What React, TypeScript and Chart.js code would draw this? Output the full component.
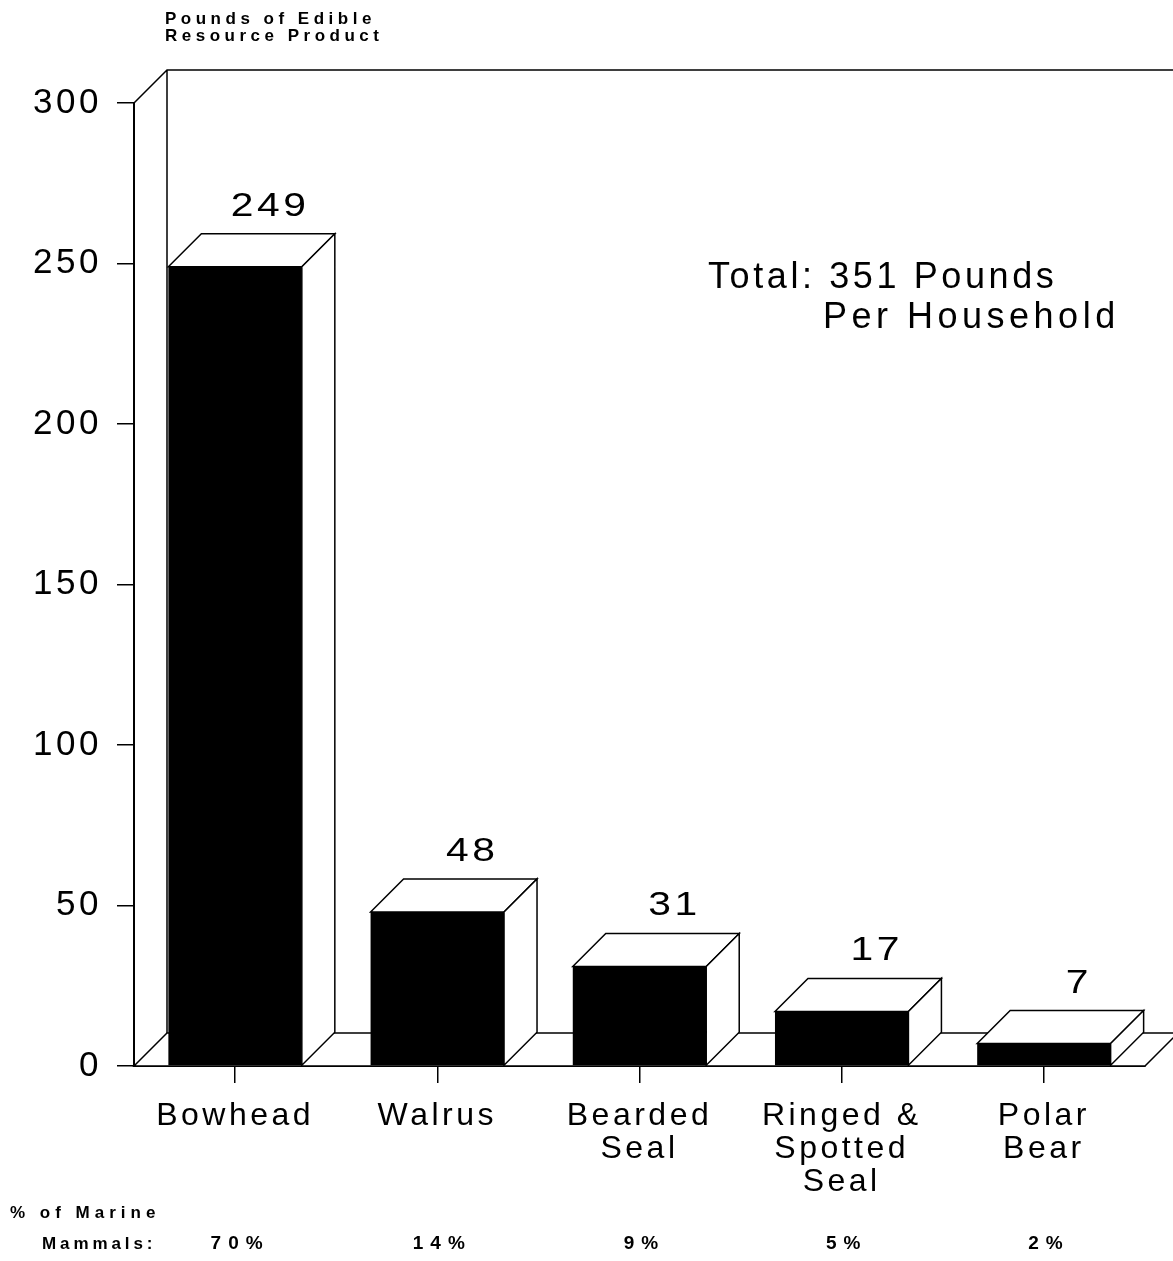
import React, { useEffect, useRef } from "react";
import { Chart, registerables } from "chart.js";

Chart.register(...registerables);

const categories: string[][] = [
  ["Bowhead"],
  ["Walrus"],
  ["Bearded", "Seal"],
  ["Ringed &", "Spotted", "Seal"],
  ["Polar", "Bear"],
];
const values: number[] = [249, 48, 31, 17, 7];
const valueLabels: string[] = ["249", "48", "31", "17", "7"];
const percentLabels: string[] = ["70%", "14%", "9%", "5%", "2%"];
const yMin = 0;
const yMax = 300;
const yStep = 50;
const yAxisTitle: string[] = ["Pounds of Edible", "Resource Product"];
const totalText: string[] = ["Total: 351 Pounds", "Per Household"];
const percentTitle: string[] = ["% of Marine", "Mammals:"];

const FONT = "'Liberation Sans', Arial, Helvetica, sans-serif";
const DX = 33;
const DY = 33;

const threeD = {
  id: "threeD",
  beforeDraw(chart: any) {
    const ctx = chart.ctx;
    ctx.save();
    ctx.fillStyle = "#fff";
    ctx.fillRect(0, 0, chart.width, chart.height);
    ctx.restore();
    (ctx as any).letterSpacing = "3.5px";
  },
  beforeDatasetsDraw(chart: any) {
    const ctx = chart.ctx;
    const { left, right, top, bottom } = chart.chartArea;
    ctx.save();
    ctx.strokeStyle = "#000";
    ctx.lineWidth = 1.5;
    // floor
    ctx.beginPath();
    ctx.moveTo(left, bottom);
    ctx.lineTo(left + DX, bottom - DY);
    ctx.lineTo(right + DX, bottom - DY);
    ctx.lineTo(right, bottom);
    ctx.closePath();
    ctx.fillStyle = "#fff";
    ctx.fill();
    ctx.stroke();
    // back wall
    ctx.beginPath();
    ctx.moveTo(left, top);
    ctx.lineTo(left + DX, top - DY);
    ctx.lineTo(right + DX, top - DY);
    ctx.lineTo(right + DX, bottom - DY);
    ctx.moveTo(left + DX, top - DY);
    ctx.lineTo(left + DX, bottom - DY);
    ctx.stroke();
    ctx.restore();
  },
  afterDatasetsDraw(chart: any) {
    const ctx = chart.ctx;
    const meta = chart.getDatasetMeta(0);
    ctx.save();
    ctx.strokeStyle = "#000";
    ctx.lineWidth = 1.5;
    ctx.lineJoin = "miter";
    meta.data.forEach((bar: any, i: number) => {
      const { x, y, base, width } = bar.getProps(["x", "y", "base", "width"], true);
      const l = x - width / 2;
      const r = x + width / 2;
      // top face
      ctx.beginPath();
      ctx.moveTo(l, y);
      ctx.lineTo(l + DX, y - DY);
      ctx.lineTo(r + DX, y - DY);
      ctx.lineTo(r, y);
      ctx.closePath();
      ctx.fillStyle = "#fff";
      ctx.fill();
      ctx.stroke();
      // side face
      ctx.beginPath();
      ctx.moveTo(r, y);
      ctx.lineTo(r + DX, y - DY);
      ctx.lineTo(r + DX, base - DY);
      ctx.lineTo(r, base);
      ctx.closePath();
      ctx.fill();
      ctx.stroke();
      // value label (slightly widened glyphs)
      ctx.save();
      ctx.fillStyle = "#000";
      ctx.font = `34px ${FONT}`;
      (ctx as any).letterSpacing = "3px";
      ctx.textAlign = "center";
      ctx.textBaseline = "alphabetic";
      const cx = x + DX + 2;
      ctx.translate(cx, y - DY - 18);
      ctx.scale(1.2, 1);
      ctx.fillText(valueLabels[i], 0, 0);
      ctx.restore();
    });
    ctx.restore();
  },
  afterDraw(chart: any) {
    const ctx = chart.ctx;
    const xScale = chart.scales.x;
    ctx.save();
    ctx.fillStyle = "#000";
    ctx.textBaseline = "alphabetic";
    ctx.textAlign = "left";
    // y axis title
    ctx.font = `bold 17px ${FONT}`;
    (ctx as any).letterSpacing = "4.5px";
    ctx.fillText(yAxisTitle[0], 165, 24);
    ctx.fillText(yAxisTitle[1], 165, 41);
    // percent title
    (ctx as any).letterSpacing = "5px";
    ctx.fillText(percentTitle[0], 10, 1218);
    (ctx as any).letterSpacing = "3.9px";
    ctx.fillText(percentTitle[1], 42, 1249);
    // percent labels
    ctx.font = `bold 19px ${FONT}`;
    (ctx as any).letterSpacing = "7px";
    ctx.textAlign = "center";
    percentLabels.forEach((p, i) => {
      ctx.fillText(p, xScale.getPixelForValue(i) + 5, 1249);
    });
    // total
    ctx.font = `36px ${FONT}`;
    (ctx as any).letterSpacing = "3.6px";
    ctx.textAlign = "left";
    ctx.fillText(totalText[0], 708, 288);
    (ctx as any).letterSpacing = "4.5px";
    ctx.fillText(totalText[1], 823, 328);
    ctx.restore();
  },
};

export default function App() {
  const ref = useRef<HTMLCanvasElement>(null);
  useEffect(() => {
    if (!ref.current) return;
    const chart = new Chart(ref.current, {
      type: "bar",
      data: {
        labels: categories,
        datasets: [
          {
            data: values,
            backgroundColor: "#000",
            borderWidth: 0,
            categoryPercentage: 0.66,
            barPercentage: 1,
          },
        ],
      },
      options: {
        responsive: false,
        animation: false,
        devicePixelRatio: 1,
        layout: { padding: { top: 103, right: 28, left: 0, bottom: 0 } },
        plugins: {
          legend: { display: false },
          tooltip: { enabled: false },
          title: { display: false },
        },
        scales: {
          x: {
            offset: true,
            grid: {
              offset: false,
              drawOnChartArea: false,
              drawTicks: true,
              tickLength: 17,
              color: "#000",
              lineWidth: 1.5,
            },
            border: { display: true, color: "#000", width: 2 },
            ticks: {
              color: "#000",
              font: { family: FONT, size: 32, lineHeight: 1.03 },
              maxRotation: 0,
              autoSkip: false,
              padding: 17,
            },
            afterFit(s: any) {
              s.height = 195;
            },
          },
          y: {
            min: yMin,
            max: yMax,
            grid: {
              drawOnChartArea: false,
              drawTicks: true,
              tickLength: 17,
              color: "#000",
              lineWidth: 1.5,
            },
            border: { display: true, color: "#000", width: 2 },
            ticks: {
              stepSize: yStep,
              color: "#000",
              font: { family: FONT, size: 35 },
              padding: 15,
            },
            afterFit(s: any) {
              s.width = 134;
            },
          },
        },
      },
      plugins: [threeD],
    });
    return () => chart.destroy();
  }, []);
  return (
    <div style={{ position: "absolute", left: 0, top: 0, width: 1173, height: 1261 }}>
      <canvas ref={ref} width={1173} height={1261} style={{ display: "block" }} />
    </div>
  );
}
